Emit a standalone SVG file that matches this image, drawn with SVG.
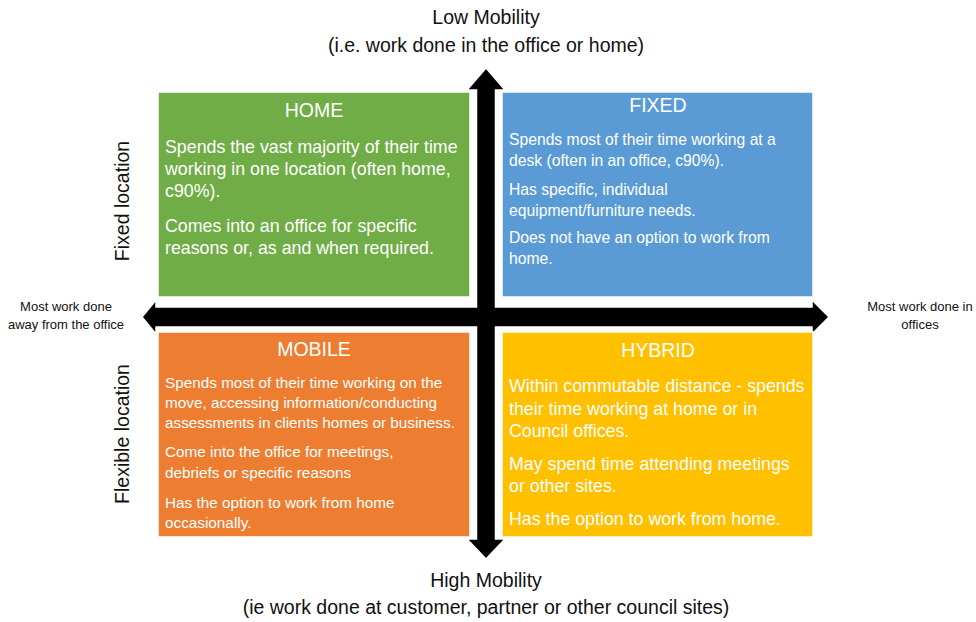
<svg xmlns="http://www.w3.org/2000/svg" width="976" height="622" viewBox="0 0 976 622">
<style>
.box{stroke:#fff;stroke-width:1.5}
.t{font-family:"Liberation Sans",Arial,sans-serif;fill:#fff}
.title{font-size:19.5px;text-anchor:middle}
.big{font-size:17.8px}
.ax{font-family:"Liberation Sans",Arial,sans-serif;fill:#111;text-anchor:middle}
</style>
<rect width="976" height="622" fill="#fff"/>
<g id="connectors">
<polygon points="486,68 505,90 495.5,90 495.5,307 812,307 812,300 829,317 812,334 812,327 495.5,327 495.5,539 505,539 486,559 467,539 476.5,539 476.5,327 156,327 156,334 142,317 156,300 156,307 476.5,307 476.5,90 467,90" fill="#000" stroke="#fff" stroke-width="1.5"/>
</g>
<g id="home">
<rect class="box" x="158" y="92" width="312" height="205" fill="#70AD47"/>
<text class="t title" x="314" y="117">HOME</text>
<text class="t big" x="165"><tspan x="165" y="153">Spends the vast majority of their time</tspan><tspan x="165" y="175">working in one location (often home,</tspan><tspan x="165" y="197">c90%).</tspan><tspan x="165" y="232">Comes into an office for specific</tspan><tspan x="165" y="254">reasons or, as and when required.</tspan></text>
</g>
<g id="fixed">
<rect class="box" x="502" y="92" width="311" height="205" fill="#5B9BD5"/>
<text class="t title" x="658" y="112">FIXED</text>
<text class="t" font-size="15.7" x="509"><tspan x="509" y="145">Spends most of their time working at a</tspan><tspan x="509" y="166">desk (often in an office, c90%).</tspan><tspan x="509" y="195">Has specific, individual</tspan><tspan x="509" y="216">equipment/furniture needs.</tspan><tspan x="509" y="243">Does not have an option to work from</tspan><tspan x="509" y="264">home.</tspan></text>
</g>
<g id="mobile">
<rect class="box" x="158" y="332" width="312" height="205" fill="#ED7D31"/>
<text class="t title" x="314" y="356">MOBILE</text>
<text class="t" font-size="15.3" x="165"><tspan x="165" y="388">Spends most of their time working on the</tspan><tspan x="165" y="408">move, accessing information/conducting</tspan><tspan x="165" y="428">assessments in clients homes or business.</tspan><tspan x="165" y="457">Come into the office for meetings,</tspan><tspan x="165" y="478">debriefs or specific reasons</tspan><tspan x="165" y="508">Has the option to work from home</tspan><tspan x="165" y="528">occasionally.</tspan></text>
</g>
<g id="hybrid">
<rect class="box" x="502" y="332" width="311" height="205" fill="#FFC000"/>
<text class="t title" x="658" y="357">HYBRID</text>
<text class="t big" x="509"><tspan x="509" y="392">Within commutable distance - spends</tspan><tspan x="509" y="415">their time working at home or in</tspan><tspan x="509" y="437">Council offices.</tspan><tspan x="509" y="470">May spend time attending meetings</tspan><tspan x="509" y="492">or other sites.</tspan><tspan x="509" y="525">Has the option to work from home.</tspan></text>
</g>
<g id="labels">
<text class="ax" font-size="19.5" x="486" y="24">Low Mobility</text>
<text class="ax" font-size="19.5" x="486" y="52">(i.e. work done in the office or home)</text>
<text class="ax" font-size="19.5" x="486" y="587">High Mobility</text>
<text class="ax" font-size="19.5" x="486" y="614">(ie work done at customer, partner or other council sites)</text>
<text class="ax" font-size="13" x="66" y="311">Most work done</text>
<text class="ax" font-size="13" x="66" y="329">away from the office</text>
<text class="ax" font-size="13" x="920" y="311">Most work done in</text>
<text class="ax" font-size="13" x="920" y="329">offices</text>
<text class="ax" font-size="19.5" transform="translate(129,201) rotate(-90)">Fixed location</text>
<text class="ax" font-size="19.5" transform="translate(129,434) rotate(-90)">Flexible location</text>
</g>
</svg>
